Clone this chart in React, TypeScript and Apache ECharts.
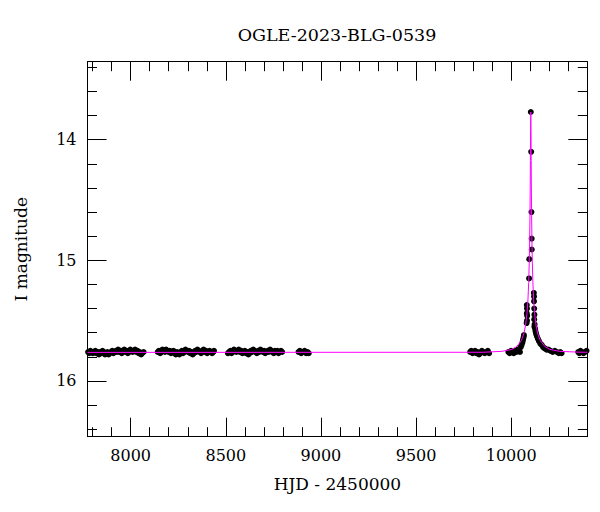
import React, { useEffect, useRef } from "react";
import * as echarts from "echarts";

const TITLE = "OGLE-2023-BLG-0539";
const X_NAME = "HJD - 2450000";
const Y_NAME = "I magnitude";

const X_MIN = 7773;
const X_MAX = 10400;
const Y_MIN = 13.353;
const Y_MAX = 16.462;

const xMajorTicks = [8000, 8500, 9000, 9500, 10000];
const xMinorTicks = [7800, 7900, 8100, 8200, 8300, 8400, 8600, 8700, 8800, 8900, 9100, 9200, 9300, 9400, 9600, 9700, 9800, 9900, 10100, 10200, 10300];
const yMajorTicks = [14, 15, 16];
const yMinorTicks = [13.4, 13.6, 13.8, 14.2, 14.4, 14.6, 14.8, 15.2, 15.4, 15.6, 15.8, 16.2, 16.4];

const season2017: [number, number][] = [
  [7776, 15.76], [7782, 15.77], [7788, 15.75], [7795, 15.76], [7801, 15.77], [7808, 15.76], [7814, 15.75], [7820, 15.77],
  [7827, 15.76], [7833, 15.78], [7839, 15.76], [7846, 15.77], [7852, 15.75], [7858, 15.76], [7865, 15.78], [7871, 15.77],
  [7877, 15.76], [7884, 15.78], [7890, 15.77], [7896, 15.76], [7903, 15.75], [7909, 15.77], [7915, 15.76], [7922, 15.75],
  [7928, 15.76], [7934, 15.74], [7941, 15.76], [7947, 15.75], [7953, 15.77], [7960, 15.75], [7966, 15.74], [7972, 15.76],
  [7979, 15.75], [7985, 15.77], [7991, 15.76], [7998, 15.74], [8004, 15.75], [8010, 15.76], [8017, 15.75], [8023, 15.74],
  [8029, 15.76], [8036, 15.75], [8042, 15.77], [8048, 15.76], [8055, 15.78], [8061, 15.77], [8068, 15.76],
];
const season2018: [number, number][] = [
  [8142, 15.76], [8148, 15.75], [8155, 15.77], [8161, 15.76], [8167, 15.74], [8174, 15.75], [8180, 15.76], [8186, 15.74],
  [8193, 15.75], [8199, 15.76], [8206, 15.75], [8212, 15.77], [8218, 15.76], [8225, 15.75], [8231, 15.77], [8237, 15.78],
  [8244, 15.76], [8250, 15.77], [8256, 15.78], [8263, 15.76], [8269, 15.75], [8275, 15.77], [8282, 15.76], [8288, 15.74],
  [8294, 15.75], [8301, 15.76], [8307, 15.75], [8313, 15.77], [8320, 15.76], [8326, 15.78], [8332, 15.77], [8339, 15.75],
  [8345, 15.76], [8351, 15.74], [8358, 15.75], [8364, 15.76], [8370, 15.77], [8377, 15.75], [8383, 15.74], [8389, 15.76],
  [8396, 15.75], [8402, 15.77], [8408, 15.76], [8415, 15.75], [8421, 15.76], [8428, 15.77], [8434, 15.76], [8438, 15.75],
];
const season2019: [number, number][] = [
  [8511, 15.77], [8517, 15.76], [8524, 15.75], [8530, 15.77], [8536, 15.76], [8543, 15.74], [8549, 15.75], [8555, 15.76],
  [8562, 15.75], [8568, 15.74], [8574, 15.76], [8581, 15.75], [8587, 15.77], [8593, 15.76], [8600, 15.75], [8606, 15.77],
  [8612, 15.76], [8619, 15.78], [8625, 15.77], [8631, 15.75], [8638, 15.76], [8644, 15.74], [8650, 15.75], [8657, 15.76],
  [8663, 15.77], [8669, 15.75], [8676, 15.76], [8682, 15.74], [8688, 15.75], [8695, 15.76], [8701, 15.75], [8707, 15.77],
  [8714, 15.76], [8720, 15.75], [8726, 15.76], [8733, 15.74], [8739, 15.75], [8745, 15.76], [8752, 15.77], [8758, 15.75],
  [8764, 15.76], [8771, 15.75], [8777, 15.77], [8783, 15.76], [8790, 15.75], [8796, 15.76],
];
const season2020: [number, number][] = [
  [8882, 15.76], [8889, 15.75], [8896, 15.77], [8905, 15.76], [8914, 15.75], [8922, 15.77], [8930, 15.76], [8936, 15.77],
];
const season2022: [number, number][] = [
  [9784, 15.76], [9790, 15.75], [9797, 15.77], [9803, 15.76], [9810, 15.75], [9817, 15.77], [9824, 15.76], [9831, 15.78],
  [9838, 15.77], [9846, 15.75], [9853, 15.76], [9861, 15.77], [9869, 15.76], [9877, 15.75], [9884, 15.77],
];
const season2023: [number, number][] = [
  [9985, 15.76], [9992, 15.77], [9999, 15.75], [10006, 15.76], [10013, 15.77], [10020, 15.75], [10027, 15.76], [10034, 15.74],
  [10040, 15.75], [10046, 15.76], [10050, 15.72], [10055, 15.70], [10059, 15.68], [10062, 15.66], [10065, 15.64], [10067, 15.62],
  [10081, 15.52], [10083, 15.50], [10084, 15.46], [10082, 15.44], [10083, 15.40], [10082, 15.37],
  [10094, 15.15], [10095, 14.99],
  [10103, 13.77], [10105, 14.10], [10106.5, 14.60], [10107.5, 14.82], [10108, 14.91],
  [10119, 15.27], [10120, 15.30], [10120, 15.34], [10121, 15.40], [10122, 15.45], [10121, 15.49], [10123, 15.53], [10122, 15.55],
  [10126, 15.57], [10128, 15.59], [10131, 15.61], [10135, 15.63], [10140, 15.65], [10146, 15.67], [10153, 15.69], [10160, 15.70],
  [10168, 15.72], [10176, 15.73], [10186, 15.74], [10196, 15.74], [10207, 15.75], [10218, 15.76], [10229, 15.75], [10240, 15.76],
  [10250, 15.77], [10258, 15.76], [10265, 15.77],
];
const season2024: [number, number][] = [
  [10352, 15.76], [10358, 15.77], [10364, 15.75], [10372, 15.76], [10380, 15.77], [10388, 15.76], [10396, 15.75],
];

const modelCurve: [number, number][] = [
  [7773, 15.763], [9853, 15.762], [9953, 15.754], [10003, 15.738], [10028, 15.716], [10053, 15.666], [10066, 15.611],
  [10075, 15.544], [10083, 15.439], [10088, 15.327], [10092, 15.183], [10095, 15.013], [10097, 14.84], [10099, 14.58],
  [10100, 14.40], [10101, 14.17], [10102, 13.91], [10103, 13.77], [10104, 13.91], [10105, 14.17], [10106, 14.40],
  [10107, 14.58], [10109, 14.84], [10111, 15.013], [10114, 15.183], [10118, 15.327], [10123, 15.439], [10131, 15.544],
  [10140, 15.611], [10153, 15.666], [10178, 15.716], [10203, 15.738], [10253, 15.754], [10353, 15.761], [10400, 15.762],
];

const FONT = "DejaVu Serif";

export default function App() {
  const ref = useRef<HTMLDivElement>(null);
  useEffect(() => {
    if (!ref.current) return;
    const chart = echarts.init(ref.current, undefined, { renderer: "svg" });
    const lineStyle = { color: "#000", width: 1 };
    const fmt = (v: number) => String(v);
    const xAxis = (position: string, ticks: number[], len: number, labels: boolean, line: boolean, name?: string) => ({
      type: "value",
      position,
      min: X_MIN,
      max: X_MAX,
      gridIndex: 0,
      name: name || "",
      nameLocation: "middle",
      nameGap: 39,
      nameTextStyle: { fontFamily: FONT, fontSize: 17, color: "#000" },
      axisLine: { show: line, onZero: false, lineStyle },
      axisTick: { show: true, inside: true, length: len, customValues: ticks, lineStyle },
      axisLabel: labels
        ? { show: true, customValues: ticks, formatter: fmt, margin: 11, fontFamily: FONT, fontSize: 16, color: "#000" }
        : { show: false },
      splitLine: { show: false },
    });
    const yAxis = (position: string, ticks: number[], len: number, labels: boolean, line: boolean, name?: string) => ({
      type: "value",
      position,
      inverse: true,
      min: Y_MIN,
      max: Y_MAX,
      gridIndex: 0,
      name: name || "",
      nameLocation: "middle",
      nameGap: 58,
      nameTextStyle: { fontFamily: FONT, fontSize: 17, color: "#000" },
      axisLine: { show: line, onZero: false, lineStyle },
      axisTick: { show: true, inside: true, length: len, customValues: ticks, lineStyle },
      axisLabel: labels
        ? { show: true, customValues: ticks, formatter: fmt, margin: 11, fontFamily: FONT, fontSize: 16, color: "#000" }
        : { show: false },
      splitLine: { show: false },
    });
    const points = [
      ...season2017, ...season2018, ...season2019, ...season2020, ...season2022, ...season2023, ...season2024,
    ];
    chart.setOption({
      animation: false,
      backgroundColor: "#fff",
      graphic: [
        {
          type: "text",
          x: 337,
          y: 35,
          style: {
            text: TITLE,
            font: `17.5px "${FONT}"`,
            fill: "#000",
            textAlign: "center",
            textVerticalAlign: "middle",
          },
        },
      ],
      grid: { left: 87.5, right: 12.7, top: 61.7, bottom: 75.3, containLabel: false },
      xAxis: [
        xAxis("bottom", xMajorTicks, 19, true, true, X_NAME),
        xAxis("bottom", xMinorTicks, 9.5, false, false),
        xAxis("top", xMajorTicks, 19, false, true),
        xAxis("top", xMinorTicks, 9.5, false, false),
      ],
      yAxis: [
        yAxis("left", yMajorTicks, 19, true, true, Y_NAME),
        yAxis("left", yMinorTicks, 9.5, false, false),
        yAxis("right", yMajorTicks, 19, false, true),
        yAxis("right", yMinorTicks, 9.5, false, false),
      ],
      series: [
        {
          type: "scatter",
          xAxisIndex: 0,
          yAxisIndex: 0,
          data: points,
          symbol: "circle",
          symbolSize: 6,
          itemStyle: { color: "#000", opacity: 1 },
          z: 2,
        },
        {
          type: "line",
          xAxisIndex: 0,
          yAxisIndex: 0,
          data: modelCurve,
          showSymbol: false,
          symbol: "none",
          lineStyle: { color: "#ff00ff", width: 1 },
          z: 3,
        },
      ],
    });
    return () => chart.dispose();
  }, []);
  return <div ref={ref} style={{ position: "absolute", left: 0, top: 0, width: 600, height: 512 }} />;
}
